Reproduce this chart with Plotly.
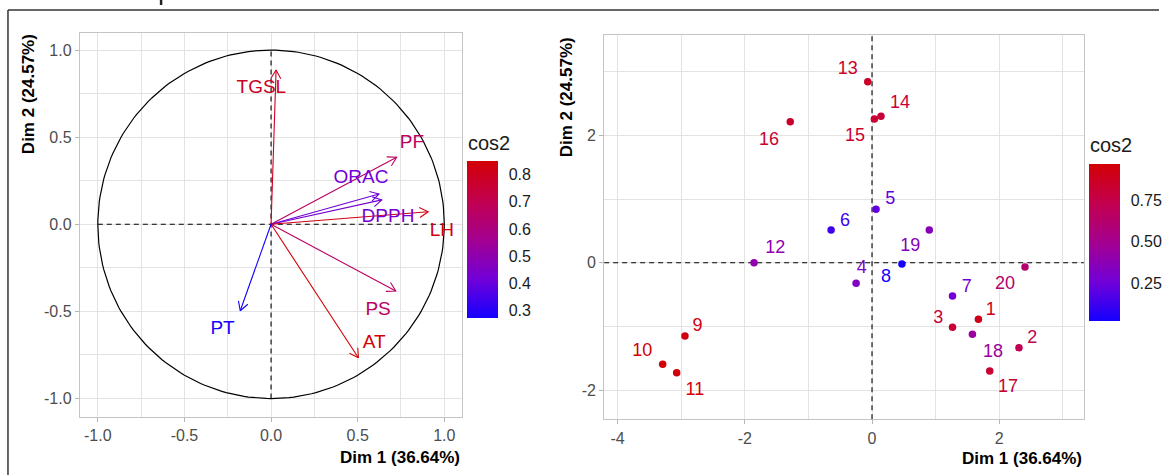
import math
import plotly.graph_objects as go

# ---------------- data ----------------
var_names = ["TGSL", "PF", "ORAC", "DPPH", "LH", "PS", "AT", "PT"]
var_x = [0.029, 0.725, 0.623, 0.639, 0.907, 0.720, 0.504, -0.178]
var_y = [0.886, 0.385, 0.174, 0.140, 0.072, -0.383, -0.766, -0.496]
var_cos2 = [0.79, 0.67, 0.42, 0.43, 0.83, 0.665, 0.85, 0.275]
var_label_x = [-0.056, 0.813, 0.519, 0.675, 0.986, 0.618, 0.595, -0.280]
var_label_y = [0.782, 0.467, 0.266, 0.042, -0.038, -0.492, -0.681, -0.602]

ind_names = [str(i) for i in range(1, 21)]
ind_x = [1.672, 2.31, 1.265, -0.25, 0.063, -0.643, 1.265, 0.47, -2.94, -3.29,
         -3.07, -1.854, -0.067, 0.141, 0.037, -1.285, 1.85, 1.578, 0.90, 2.404]
ind_y = [-0.889, -1.334, -1.014, -0.323, 0.838, 0.513, -0.523, -0.02, -1.151, -1.595,
         -1.727, 0.0, 2.84, 2.30, 2.256, 2.214, -1.70, -1.124, 0.513, -0.068]
ind_cos2 = [0.90, 0.72, 0.80, 0.33, 0.22, 0.13, 0.27, 0.026, 0.93, 0.966,
            0.95, 0.40, 0.86, 0.80, 0.82, 0.84, 0.82, 0.45, 0.36, 0.62]
ind_label_x = [1.865, 2.519, 1.041, -0.161, 0.288, -0.423, 1.489, 0.219, -2.743, -3.610,
               -2.784, -1.520, -0.381, 0.439, -0.266, -1.619, 2.138, 1.903, 0.602, 2.091]
ind_label_y = [-0.743, -1.187, -0.873, -0.088, 0.995, 0.644, -0.386, -0.235, -1.005, -1.397,
               -1.998, 0.226, 3.036, 2.502, 1.989, 1.915, -1.962, -1.413, 0.251, -0.339]

var_ticks = [-1.0, -0.5, 0.0, 0.5, 1.0]
var_ticktext = ["-1.0", "-0.5", "0.0", "0.5", "1.0"]
ind_xticks = [-4, -2, 0, 2]
ind_xticktext = ["-4", "-2", "0", "2"]
ind_yticks = [-2, 0, 2]
ind_yticktext = ["-2", "0", "2"]
var_cbar_ticks = [0.3, 0.4, 0.5, 0.6, 0.7, 0.8]
ind_cbar_ticks = [0.25, 0.50, 0.75]
x_title = "Dim 1 (36.64%)"
y_title = "Dim 2 (24.57%)"

# ---------------- style ----------------
W, H = 1162, 475
FONT = "Liberation Sans, Arial, sans-serif"
colorscale = [[0.0, "#1500ff"], [0.25, "#7200d8"], [0.5, "#a4008f"],
              [0.75, "#c3004e"], [1.0, "#d20005"]]

L_PX = (80, 463, 33, 417)        # left, right, top, bottom
R_PX = (605.7, 1086.7, 35, 419.3)
L_XR = [-1.104, 1.101]
L_YR = [-1.106, 1.098]
R_XR = [-4.21, 3.33]
R_YR = [-2.458, 3.575]
L_CB = (468, 160.7, 157.3)       # left x, top y, length
R_CB = (1091.7, 164, 156.7)
CB_THICK = 31


def px(v):
    return v / W


def py(v):
    return 1 - v / H


def hex2rgb(h):
    h = h.lstrip("#")
    return [int(h[i:i + 2], 16) for i in (0, 2, 4)]


def cmap(v, vmin, vmax):
    t = (v - vmin) / (vmax - vmin)
    t = min(max(t, 0), 1)
    for (a, ca), (b, cb) in zip(colorscale[:-1], colorscale[1:]):
        if t <= b:
            f = (t - a) / (b - a) if b > a else 0
            c1, c2 = hex2rgb(ca), hex2rgb(cb)
            return "rgb(%d,%d,%d)" % tuple(round(c1[i] + f * (c2[i] - c1[i])) for i in range(3))
    return colorscale[-1][1]


vmin, vmax = min(var_cos2), max(var_cos2)
imin, imax = min(ind_cos2), max(ind_cos2)
var_cols = [cmap(c, vmin, vmax) for c in var_cos2]
ind_cols = [cmap(c, imin, imax) for c in ind_cos2]

fig = go.Figure()

# ---- left panel: circle + dashed axes ----
n = 240
cx = [math.cos(2 * math.pi * i / n) for i in range(n + 1)]
cy = [math.sin(2 * math.pi * i / n) for i in range(n + 1)]
fig.add_trace(go.Scatter(x=cx, y=cy, mode="lines", line=dict(color="black", width=1.2),
                         hoverinfo="skip", showlegend=False, xaxis="x", yaxis="y"))
fig.add_trace(go.Scatter(x=[-1, 1, None, 0, 0], y=[0, 0, None, -1, 1], mode="lines",
                         line=dict(color="black", width=1.1, dash="5px,4px"),
                         hoverinfo="skip", showlegend=False, xaxis="x", yaxis="y"))

# arrows (open heads)
sx = (L_PX[1] - L_PX[0]) / (L_XR[1] - L_XR[0])
sy = (L_PX[3] - L_PX[2]) / (L_YR[1] - L_YR[0])
head = 10.0
for xv, yv, col in zip(var_x, var_y, var_cols):
    th = math.atan2(yv * sy, xv * sx)
    hx, hy = [], []
    for s in (1, -1):
        a = th + math.pi + s * math.pi / 6
        hx.append(xv + head * math.cos(a) / sx)
        hy.append(yv + head * math.sin(a) / sy)
    fig.add_trace(go.Scatter(x=[0, xv, None, hx[0], xv, hx[1]],
                             y=[0, yv, None, hy[0], yv, hy[1]],
                             mode="lines", line=dict(color=col, width=1.1),
                             hoverinfo="skip", showlegend=False, xaxis="x", yaxis="y"))

fig.add_trace(go.Scatter(x=var_label_x, y=var_label_y, mode="text", text=var_names,
                         textfont=dict(family=FONT, size=19, color=var_cols),
                         hoverinfo="skip", showlegend=False, xaxis="x", yaxis="y"))

cbar_common = dict(thicknessmode="pixels", thickness=CB_THICK, lenmode="pixels",
                   xanchor="left", yanchor="top", xpad=0, ypad=0, outlinewidth=0,
                   ticks="outside", ticklen=8, tickwidth=1, tickcolor="rgba(0,0,0,0)",
                   tickfont=dict(family=FONT, size=16, color="#1a1a1a"))

fig.add_trace(go.Scatter(x=var_x, y=var_y, mode="markers",
                         marker=dict(size=0.1, opacity=0, color=var_cos2, colorscale=colorscale,
                                     cmin=vmin, cmax=vmax, showscale=True,
                                     colorbar=dict(x=px(L_CB[0]), y=py(L_CB[1]), len=L_CB[2],
                                                   tickvals=var_cbar_ticks, tickformat=".1f",
                                                   **cbar_common)),
                         hoverinfo="skip", showlegend=False, xaxis="x", yaxis="y"))

# ---- right panel ----
fig.add_trace(go.Scatter(x=[R_XR[0], R_XR[1], None, 0, 0], y=[0, 0, None, R_YR[0], R_YR[1]],
                         mode="lines", line=dict(color="black", width=1.1, dash="5px,4px"),
                         hoverinfo="skip", showlegend=False, xaxis="x2", yaxis="y2"))
fig.add_trace(go.Scatter(x=ind_x, y=ind_y, mode="markers",
                         marker=dict(size=7.5, color=ind_cos2, colorscale=colorscale,
                                     cmin=imin, cmax=imax, showscale=True,
                                     colorbar=dict(x=px(R_CB[0]), y=py(R_CB[1]), len=R_CB[2],
                                                   tickvals=ind_cbar_ticks, tickformat=".2f",
                                                   **cbar_common)),
                         hoverinfo="skip", showlegend=False, xaxis="x2", yaxis="y2"))
fig.add_trace(go.Scatter(x=ind_label_x, y=ind_label_y, mode="text", text=ind_names,
                         textfont=dict(family=FONT, size=18, color=ind_cols),
                         hoverinfo="skip", showlegend=False, xaxis="x2", yaxis="y2"))

axis_common = dict(showgrid=True, gridcolor="#E3E3E3", gridwidth=1, zeroline=False,
                   showline=True, mirror=True, linecolor="#C4C4C4", linewidth=1,
                   ticks="outside", ticklen=4, tickcolor="#B5B5B5", tickwidth=1,
                   tickfont=dict(family=FONT, size=16, color="#4D4D4D"),
                   automargin=False, fixedrange=True, layer="below traces")

fig.update_layout(
    width=W, height=H, margin=dict(l=0, r=0, t=0, b=0),
    paper_bgcolor="white", plot_bgcolor="white", template="none",
    font=dict(family=FONT),
    xaxis=dict(domain=[px(L_PX[0]), px(L_PX[1])], range=L_XR, tickvals=var_ticks,
               ticktext=var_ticktext, minor=dict(dtick=0.25, tick0=0, showgrid=True,
                                                 gridcolor="#E3E3E3", gridwidth=0.9, ticks=""),
               anchor="y", **axis_common),
    yaxis=dict(domain=[py(L_PX[3]), py(L_PX[2])], range=L_YR, tickvals=var_ticks,
               ticktext=var_ticktext, minor=dict(dtick=0.25, tick0=0, showgrid=True,
                                                 gridcolor="#E3E3E3", gridwidth=0.9, ticks=""),
               anchor="x", **axis_common),
    xaxis2=dict(domain=[px(R_PX[0]), px(R_PX[1])], range=R_XR, tickvals=ind_xticks,
                ticktext=ind_xticktext,
                minor=dict(dtick=1, tick0=0, showgrid=True, gridcolor="#E3E3E3",
                           gridwidth=0.9, ticks=""),
                anchor="y2", **axis_common),
    yaxis2=dict(domain=[py(R_PX[3]), py(R_PX[2])], range=R_YR, tickvals=ind_yticks,
                ticktext=ind_yticktext,
                minor=dict(dtick=1, tick0=0, showgrid=True, gridcolor="#E3E3E3",
                           gridwidth=0.9, ticks=""),
                anchor="x2", **axis_common),
)

ann = []
tfont = dict(family=FONT, size=17, color="black")
ann.append(dict(text="<b>%s</b>" % x_title, x=px(L_PX[1]), y=py(457.7), xref="paper", yref="paper",
                xanchor="right", yanchor="middle", showarrow=False, font=tfont))
ann.append(dict(text="<b>%s</b>" % x_title, x=px(R_PX[1]), y=py(458), xref="paper", yref="paper",
                xanchor="right", yanchor="middle", showarrow=False, font=tfont))
ann.append(dict(text="<b>%s</b>" % y_title, x=px(28), y=py(94.2), xref="paper", yref="paper",
                xanchor="center", yanchor="middle", textangle=-90, showarrow=False, font=tfont))
ann.append(dict(text="<b>%s</b>" % y_title, x=px(568.3), y=py(97.5), xref="paper", yref="paper",
                xanchor="center", yanchor="middle", textangle=-90, showarrow=False, font=tfont))
lfont = dict(family=FONT, size=20, color="#1a1a1a")
ann.append(dict(text="cos2", x=px(L_CB[0] - 1), y=py(143), xref="paper", yref="paper",
                xanchor="left", yanchor="middle", showarrow=False, font=lfont))
ann.append(dict(text="cos2", x=px(R_CB[0] - 1), y=py(145), xref="paper", yref="paper",
                xanchor="left", yanchor="middle", showarrow=False, font=lfont))
fig.update_layout(annotations=ann)

# white tick marks on both edges of the colour bars
shapes = []
tick_len = 6
for (cb_x, cb_top, cb_len), ticks, lo, hi in ((L_CB, var_cbar_ticks, vmin, vmax),
                                              (R_CB, ind_cbar_ticks, imin, imax)):
    for t in ticks:
        ty = cb_top + (hi - t) / (hi - lo) * cb_len
        for x0, x1 in ((cb_x, cb_x + tick_len), (cb_x + CB_THICK - tick_len, cb_x + CB_THICK)):
            shapes.append(dict(type="line", xref="paper", yref="paper", x0=px(x0), x1=px(x1),
                               y0=py(ty), y1=py(ty), line=dict(color="white", width=1.5)))

# outer frame of the cropped figure
shapes += [
    dict(type="line", xref="paper", yref="paper", x0=px(8), x1=px(8), y0=py(10), y1=0,
         line=dict(color="#333333", width=1.5)),
    dict(type="line", xref="paper", yref="paper", x0=px(8), x1=1, y0=py(10), y1=py(10),
         line=dict(color="#333333", width=1.5)),
    dict(type="line", xref="paper", yref="paper", x0=px(161.5), x1=px(161.5), y0=1, y1=py(5),
         line=dict(color="#222222", width=2.5)),
]
fig.update_layout(shapes=shapes)

fig.write_html("out.html", config={"displayModeBar": False},
               post_script="document.body.style.margin='0px';document.body.style.overflow='hidden';")
